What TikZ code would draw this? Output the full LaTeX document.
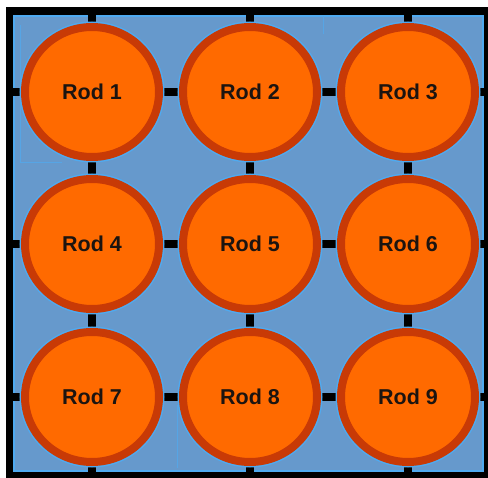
\documentclass[tikz,border=0pt]{standalone}
\usepackage{fontspec}
\setmainfont{Liberation Sans}
\usetikzlibrary{shapes.geometric}
\pgfdeclarelayer{bg}
\pgfdeclarelayer{links}
\pgfsetlayers{bg,links,main}
\definecolor{cellblue}{HTML}{6699CC}
\definecolor{edgeblue}{HTML}{4FAAF0}
\definecolor{rodfill}{HTML}{FF6A00}
\definecolor{rodring}{HTML}{C83A06}
\definecolor{rodedge}{HTML}{8A2A08}
\definecolor{labelink}{HTML}{1C1410}
\tikzset{
  rod/.style={ellipse, minimum width=134pt, minimum height=130pt, inner sep=0pt,
    fill=rodfill, draw=rodring, line width=8pt,
    preaction={draw=edgeblue, line width=11pt},
    font=\fontsize{21.5}{24}\selectfont\bfseries, text=labelink},
  link/.style={line width=8.5pt, black},
  seam/.style={edgeblue!70!cellblue, line width=1pt}
}
\begin{document}
\begin{tikzpicture}[x=1pt, y=-1pt]
\useasboundingbox (0,0) rectangle (488,478);
% outer frame and coolant region
\begin{pgfonlayer}{bg}
  \fill[black] (6,7) rectangle (488,478);
  \fill[cellblue] (13,15) rectangle (484,472);
  \draw[edgeblue, line width=1.5pt] (14,16) rectangle (483,471);
  \draw[seam] (20,25) -- (20,163) -- (62,163);
  \draw[seam] (177,405) -- (177,468);
  \draw[seam] (323,16) -- (323,34);
\end{pgfonlayer}
% rods
\node[rod] (r1) at (92,92)  {Rod 1};
\node[rod] (r2) at (250,92) {Rod 2};
\node[rod] (r3) at (408,92) {Rod 3};
\node[rod] (r4) at (92,244)  {Rod 4};
\node[rod] (r5) at (250,244) {Rod 5};
\node[rod] (r6) at (408,244) {Rod 6};
\node[rod] (r7) at (92,397)  {Rod 7};
\node[rod] (r8) at (250,397) {Rod 8};
\node[rod] (r9) at (408,397) {Rod 9};
% frame anchor points
\coordinate (t1) at (92,8);   \coordinate (t2) at (250,8);  \coordinate (t3) at (408,8);
\coordinate (b1) at (92,477); \coordinate (b2) at (250,477); \coordinate (b3) at (408,477);
\coordinate (l1) at (7,92);   \coordinate (l2) at (7,244);  \coordinate (l3) at (7,397);
\coordinate (e1) at (487,92); \coordinate (e2) at (487,244); \coordinate (e3) at (487,397);
% spacer grid between rods and frame
\begin{pgfonlayer}{links}
  \draw[link] (t1) -- (r1.center) -- (r4.center) -- (r7.center) -- (b1);
  \draw[link] (t2) -- (r2.center) -- (r5.center) -- (r8.center) -- (b2);
  \draw[link] (t3) -- (r3.center) -- (r6.center) -- (r9.center) -- (b3);
  \draw[link] (l1) -- (r1.center) -- (r2.center) -- (r3.center) -- (e1);
  \draw[link] (l2) -- (r4.center) -- (r5.center) -- (r6.center) -- (e2);
  \draw[link] (l3) -- (r7.center) -- (r8.center) -- (r9.center) -- (e3);
\end{pgfonlayer}
\end{tikzpicture}
\end{document}
